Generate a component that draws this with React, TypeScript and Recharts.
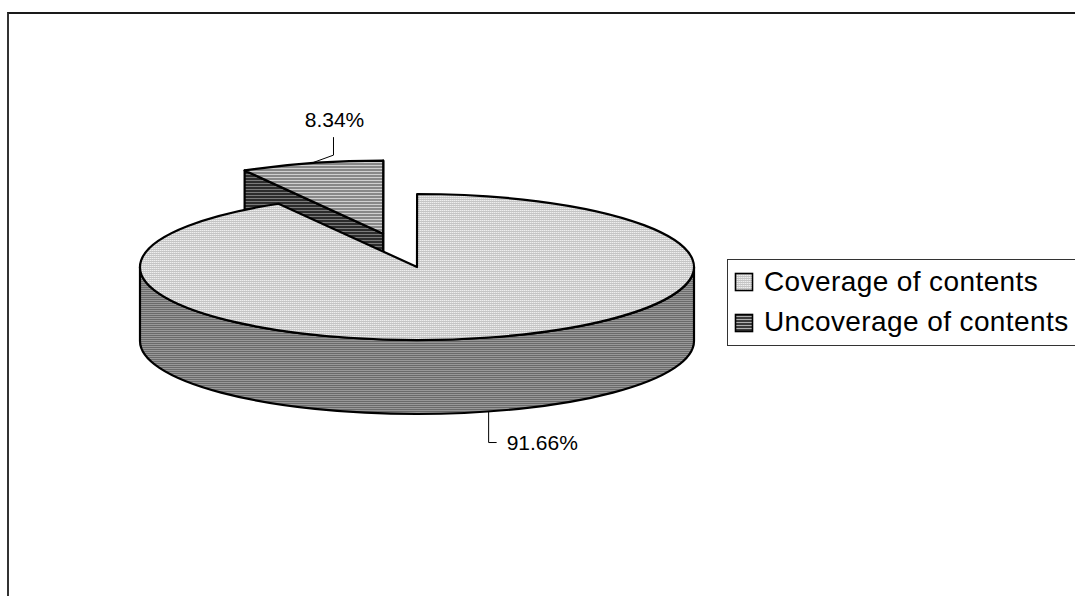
import React from 'react';
import { PieChart, Pie, Legend } from 'recharts';

// ---- data ----
const categories = ['Coverage of contents', 'Uncoverage of contents'];
const values = [91.66, 8.34];
const explodedCategory = 'Uncoverage of contents';

// ---- layout / style constants ----
const W = 1075;
const H = 596;
const CX = 417;
const CY = 267;
const RX = 277;
const TILT = 73 / 277;
const DEPTH = 74;
const EXPLODE = 131;
const FONT = '"Liberation Sans", Arial, Helvetica, sans-serif';

// draw the exploded back slice first so the big slice covers it
const pieData = [
  { name: categories[1], value: values[1] },
  { name: categories[0], value: values[0] },
];

const rad = (d: number) => (d * Math.PI) / 180;

const Patterns = ({ prefix }: { prefix: string }) => (
  <defs>
    <pattern id={`${prefix}-light`} width={2} height={2} patternUnits="userSpaceOnUse">
      <rect width={2} height={2} fill="#eeeeee" />
      <rect y={1} width={2} height={1} fill="#c4c4c4" />
      <rect x={1} y={0} width={1} height={1} fill="#d8d8d8" />
    </pattern>
    <pattern id={`${prefix}-wall`} width={2} height={2} patternUnits="userSpaceOnUse">
      <rect width={2} height={2} fill="#989898" />
      <rect y={1} width={2} height={1} fill="#6a6a6a" />
    </pattern>
    <pattern id={`${prefix}-mid`} width={3} height={3} patternUnits="userSpaceOnUse">
      <rect width={3} height={3} fill="#888888" />
      <rect y={0} width={3} height={1} fill="#d0d0d0" />
    </pattern>
    <pattern id={`${prefix}-dark`} width={3} height={3} patternUnits="userSpaceOnUse">
      <rect width={3} height={3} fill="#2c2c2c" />
      <rect y={0} width={3} height={1} fill="#7a7a7a" />
    </pattern>
    <pattern id={`${prefix}-swatch2`} width={3} height={3} patternUnits="userSpaceOnUse">
      <rect width={3} height={3} fill="#3a3a3a" />
      <rect y={0} width={3} height={1} fill="#b0b0b0" />
    </pattern>
  </defs>
);

const sliceStyle = (idx: number, prefix: string) =>
  idx === 0
    ? { top: `url(#${prefix}-light)`, wall: `url(#${prefix}-wall)`, face: `url(#${prefix}-wall)` }
    : { top: `url(#${prefix}-mid)`, wall: `url(#${prefix}-dark)`, face: `url(#${prefix}-dark)` };

function explodeOffset(name: string, mid: number) {
  if (name !== explodedCategory) return [0, 0];
  return [EXPLODE * Math.cos(rad(mid)), -EXPLODE * TILT * Math.sin(rad(mid))];
}

function Slice3D(props: any) {
  const { cx, cy, outerRadius, startAngle, endAngle } = props;
  const name: string = props.payload?.name ?? props.name;
  const idx = categories.indexOf(name);
  const prefix = `s${idx}`;
  const st = sliceStyle(idx, prefix);
  const rx = outerRadius;
  const ry = outerRadius * TILT;
  const lo = Math.min(startAngle, endAngle);
  const hi = Math.max(startAngle, endAngle);
  const mid = (lo + hi) / 2;
  const [ox, oy] = explodeOffset(name, mid);
  const x0 = cx + ox;
  const y0 = cy + oy;
  const P = (a: number, d = 0) => [x0 + rx * Math.cos(rad(a)), y0 - ry * Math.sin(rad(a)) + d];
  const f = (p: number[]) => `${p[0].toFixed(2)} ${p[1].toFixed(2)}`;

  const faces: any[] = [];
  const cutFace = (a: number, key: string) => (
    <path
      key={key}
      d={`M ${x0} ${y0} L ${f(P(a))} L ${f(P(a, DEPTH))} L ${x0} ${y0 + DEPTH} Z`}
      fill={st.face}
      stroke="#000"
      strokeWidth={2.2}
      strokeLinejoin="round"
    />
  );
  if (Math.cos(rad(lo)) > 1e-6) faces.push(cutFace(lo, 'lo'));
  if (Math.cos(rad(hi)) < -1e-6) faces.push(cutFace(hi, 'hi'));

  const walls: any[] = [];
  for (let k = -2; k <= 1; k++) {
    const a = Math.max(lo, -180 + 360 * k);
    const b = Math.min(hi, 360 * k);
    if (b - a > 1e-6) {
      const large = b - a > 180 ? 1 : 0;
      walls.push(
        <path
          key={`w${k}`}
          d={`M ${f(P(b))} A ${rx} ${ry} 0 ${large} 1 ${f(P(a))} L ${f(P(a, DEPTH))} A ${rx} ${ry} 0 ${large} 0 ${f(P(b, DEPTH))} Z`}
          fill={st.wall}
          stroke="#000"
          strokeWidth={2.2}
          strokeLinejoin="round"
        />
      );
    }
  }

  const large = hi - lo > 180 ? 1 : 0;
  const top = `M ${x0} ${y0} L ${f(P(hi))} A ${rx} ${ry} 0 ${large} 1 ${f(P(lo))} Z`;

  return (
    <g>
      <Patterns prefix={prefix} />
      {faces}
      {walls}
      <path d={top} fill={st.top} stroke="#000" strokeWidth={2.2} strokeLinejoin="round" />
    </g>
  );
}

function renderLabel(props: any) {
  const { cx, cy, midAngle, outerRadius, percent } = props;
  const name: string = props.name ?? props.payload?.name;
  const ry = outerRadius * TILT;
  const m = rad(midAngle);
  const text = `${(percent * 100).toFixed(2)}%`;
  const [ox, oy] = explodeOffset(name, midAngle);
  if (Math.sin(m) > 0) {
    const ax = cx + ox + outerRadius * Math.cos(m);
    const ay = cy + oy - ry * Math.sin(m);
    return (
      <g>
        <polyline
          points={`${ax},${ay} ${ax + 22},${ay - 8} ${ax + 22},${ay - 26}`}
          fill="none"
          stroke="#000"
          strokeWidth={1}
        />
        <text x={ax + 23} y={ay - 36} textAnchor="middle" fontFamily={FONT} fontSize={21} fill="#000">
          {text}
        </text>
      </g>
    );
  }
  const ax = cx + outerRadius * Math.cos(m);
  const ay = cy - ry * Math.sin(m) + DEPTH;
  return (
    <g>
      <polyline
        points={`${ax},${ay} ${ax},${ay + 31} ${ax + 8},${ay + 31}`}
        fill="none"
        stroke="#000"
        strokeWidth={1}
      />
      <text x={ax + 18} y={ay + 38} textAnchor="start" fontFamily={FONT} fontSize={21} fill="#000">
        {text}
      </text>
    </g>
  );
}

const LegendBox = () => (
  <svg width={348} height={87} style={{ display: 'block' }}>
    <Patterns prefix="lg" />
    <line x1={0.5} y1={0} x2={0.5} y2={87} stroke="#333" strokeWidth={1} />
    <line x1={0} y1={0.5} x2={348} y2={0.5} stroke="#333" strokeWidth={1} />
    <line x1={0} y1={86.5} x2={348} y2={86.5} stroke="#333" strokeWidth={1} />
    {categories.map((c, i) => (
      <g key={c}>
        <rect
          x={8.5}
          y={14.5 + i * 41}
          width={17}
          height={17}
          fill={i === 0 ? 'url(#lg-light)' : 'url(#lg-swatch2)'}
          stroke="#000"
          strokeWidth={1.6}
        />
        <text x={37} y={32 + i * 40} fontFamily={FONT} fontSize={28} letterSpacing={0.4} fill="#000">
          {c}
        </text>
      </g>
    ))}
  </svg>
);

export default function App() {
  return (
    <div style={{ position: 'absolute', left: 0, top: 0, width: W, height: H, overflow: 'hidden', background: '#fff' }}>
      <div
        style={{
          position: 'absolute',
          left: 7,
          top: 12,
          width: W - 7,
          height: H - 12,
          boxSizing: 'border-box',
          borderTop: '2px solid #1a1a1a',
          borderLeft: '2px solid #333',
        }}
      />
      <div style={{ position: 'absolute', left: 0, top: 0 }}>
        <PieChart width={W} height={H} margin={{ top: 0, right: 0, bottom: 0, left: 0 }}>
          <Pie
            data={pieData}
            dataKey="value"
            nameKey="name"
            cx={CX}
            cy={CY}
            outerRadius={RX}
            startAngle={120}
            endAngle={-240}
            stroke="none"
            isAnimationActive={false}
            labelLine={false}
            label={renderLabel}
            shape={Slice3D}
            activeShape={Slice3D}
            inactiveShape={Slice3D}
          />
          <Legend
            layout="vertical"
            align="right"
            verticalAlign="middle"
            content={() => <LegendBox />}
            wrapperStyle={{ left: 727, top: 259, width: 348, height: 87, right: 'auto' }}
          />
        </PieChart>
      </div>
    </div>
  );
}
